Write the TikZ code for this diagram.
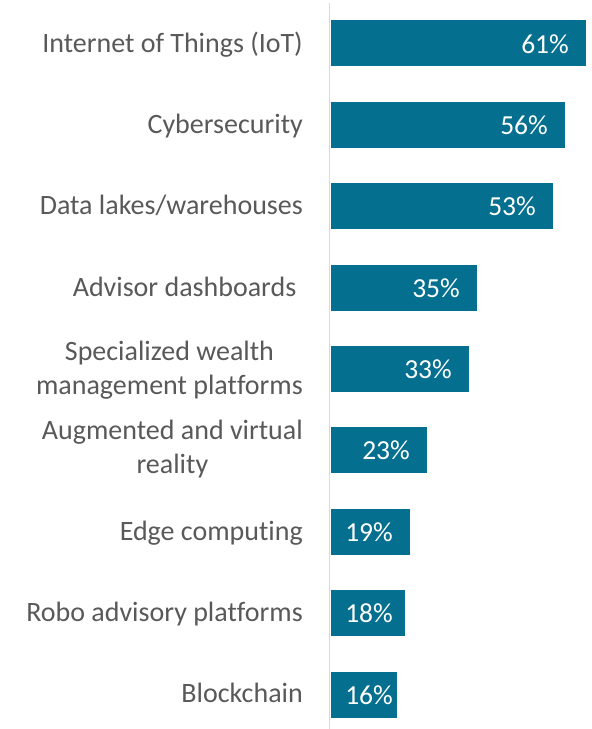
\documentclass[tikz,border=0pt]{standalone}
\usepackage{fontspec}
\setmainfont{Carlito}[Ligatures=NoCommon]
\definecolor{barc}{HTML}{046F8F}
\definecolor{lab}{HTML}{595959}
\definecolor{axisc}{HTML}{D9D9D9}
\begin{document}
\begin{tikzpicture}[x=1pt,y=-1pt,
  bar/.style={fill=barc, draw=none},
  cat/.style={anchor=base east, inner sep=0pt, text=lab, font=\fontsize{28}{33.4}\selectfont},
  val/.style={anchor=base east, inner sep=0pt, text=white, font=\fontsize{27.5}{33.4}\selectfont}]
\useasboundingbox[fill=white] (0,0) rectangle (592,729);
% bars
\fill[bar] (330.5,20)    rectangle (586,66);
\fill[bar] (330.5,101.5) rectangle (565,147.5);
\fill[bar] (330.5,183)   rectangle (553,229);
\fill[bar] (330.5,264.5) rectangle (477,310.5);
\fill[bar] (330.5,346)   rectangle (469,392);
\fill[bar] (330.5,427)   rectangle (427,473);
\fill[bar] (330.5,508.5) rectangle (410,554.5);
\fill[bar] (330.5,590)   rectangle (405,636);
\fill[bar] (330.5,671.5) rectangle (397,717.5);
% axis
\coordinate (axtop) at (329.5,3);
\coordinate (axbot) at (329.5,729);
\draw[axisc, line width=1.5pt] (axtop) -- (axbot);
% category labels
\node[cat] (c1) at (303,52) {Internet of Things (IoT)};
\node[cat] (c2) at (303,133.3) {Cybersecurity};
\node[cat] (c3) at (303,214.5) {Data lakes/warehouses};
\node[cat] (c4) at (303,296) {Advisor dashboards\kern6.5pt};
\node[cat, align=center] (c5) at (303,394) {Specialized wealth\\management platforms};
\node[cat, align=center] (c6) at (303,473) {Augmented and virtual\\reality};
\node[cat] (c7) at (303,540.5) {Edge computing};
\node[cat] (c8) at (303,621) {Robo advisory platforms};
\node[cat] (c9) at (303,702.5) {Blockchain};
% value labels
\node[val] (v1) at (569,53) {61\%};
\node[val] (v2) at (548,134) {56\%};
\node[val] (v3) at (536,215.5) {53\%};
\node[val] (v4) at (460,297) {35\%};
\node[val] (v5) at (452,378.5) {33\%};
\node[val] (v6) at (410,459.5) {23\%};
\node[val] (v7) at (393,541) {19\%};
\node[val] (v8) at (393,622.5) {18\%};
\node[val] (v9) at (393,704) {16\%};
\end{tikzpicture}
\end{document}
